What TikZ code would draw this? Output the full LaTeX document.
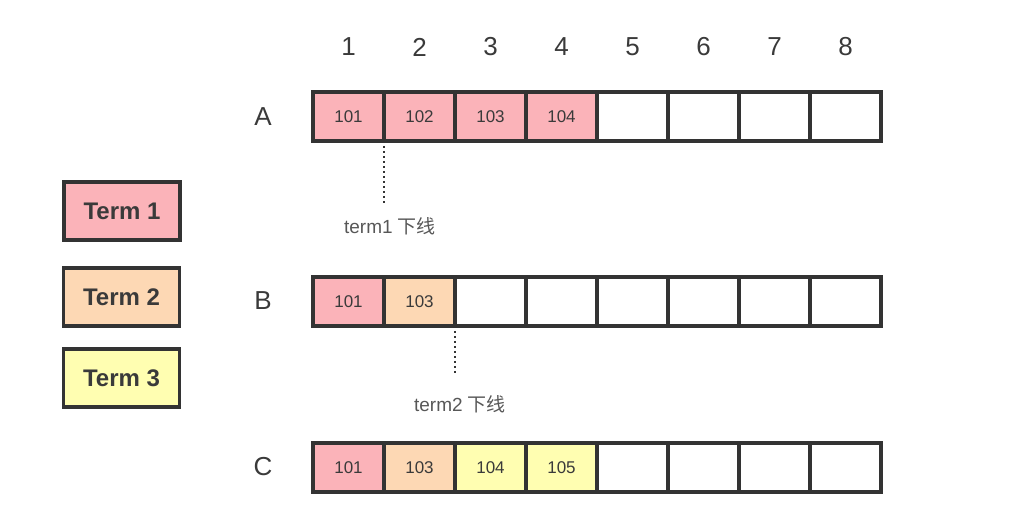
\documentclass[tikz,border=0pt]{standalone}
\usepackage{fontspec}
\setmainfont{Liberation Sans}
\newfontfamily\cjk{Noto Sans CJK SC}
\usepackage{xcolor}
\usepackage{tikz}
\usetikzlibrary{positioning}

\definecolor{tone1}{HTML}{FBB3B9}
\definecolor{tone2}{HTML}{FDD8B4}
\definecolor{tone3}{HTML}{FFFEB1}
\definecolor{edge}{HTML}{333333}
\definecolor{ink}{HTML}{3A3A3A}

\begin{document}
\begin{tikzpicture}[x=1pt, y=-1pt,
            cell/.style    ={rectangle, draw=edge, line width=3.2pt, outer sep=0pt, fill=white,
                             minimum width=71pt, minimum height=49pt, text=ink, font=\fontsize{17}{17}\selectfont},
            legend/.style  ={rectangle, draw=edge, line width=3.2pt, minimum width=116pt, minimum height=58pt,
                             text=ink, font=\fontsize{24}{24}\selectfont\bfseries},
            colnum/.style  ={text=ink, font=\fontsize{26}{26}\selectfont},
            rowname/.style ={text=ink, font=\fontsize{26}{26}\selectfont},
            offline/.style ={text=ink!85, font=\fontsize{19}{19}\selectfont},
            cut/.style     ={draw=edge, line width=2.6pt, dash pattern=on 2pt off 3pt}
        ]
            \useasboundingbox (0,0) rectangle (1034,526);

            % --- Fila A ---
            \node[cell, fill=tone1] (a1) at (348.5,116.5) {101};
            \node[cell, fill=tone1, right=0pt of a1] (a2) {102};
            \node[cell, fill=tone1, right=0pt of a2] (a3) {103};
            \node[cell, fill=tone1, right=0pt of a3] (a4) {104};
            \node[cell, right=0pt of a4] (a5) {};
            \node[cell, right=0pt of a5] (a6) {};
            \node[cell, right=0pt of a6] (a7) {};
            \node[cell, right=0pt of a7] (a8) {};

            % --- Fila B ---
            \node[cell, fill=tone1] (b1) at (348.5,301.5) {101};
            \node[cell, fill=tone2, right=0pt of b1] (b2) {103};
            \node[cell, right=0pt of b2] (b3) {};
            \node[cell, right=0pt of b3] (b4) {};
            \node[cell, right=0pt of b4] (b5) {};
            \node[cell, right=0pt of b5] (b6) {};
            \node[cell, right=0pt of b6] (b7) {};
            \node[cell, right=0pt of b7] (b8) {};

            % --- Fila C ---
            \node[cell, fill=tone1] (c1) at (348.5,467.5) {101};
            \node[cell, fill=tone2, right=0pt of c1] (c2) {103};
            \node[cell, fill=tone3, right=0pt of c2] (c3) {104};
            \node[cell, fill=tone3, right=0pt of c3] (c4) {105};
            \node[cell, right=0pt of c4] (c5) {};
            \node[cell, right=0pt of c5] (c6) {};
            \node[cell, right=0pt of c6] (c7) {};
            \node[cell, right=0pt of c7] (c8) {};

            % --- Cabecera y nombres de fila ---
            \node[colnum] (n1) at (a1 |- 0,47) {1};
            \node[colnum] (n2) at (a2 |- 0,47) {2};
            \node[colnum] (n3) at (a3 |- 0,47) {3};
            \node[colnum] (n4) at (a4 |- 0,47) {4};
            \node[colnum] (n5) at (a5 |- 0,47) {5};
            \node[colnum] (n6) at (a6 |- 0,47) {6};
            \node[colnum] (n7) at (a7 |- 0,47) {7};
            \node[colnum] (n8) at (a8 |- 0,47) {8};
            \node[rowname] (rowA) at (263,117) {A};
            \node[rowname] (rowB) at (263,301) {B};
            \node[rowname] (rowC) at (263,467) {C};

            % --- Leyenda ---
            \node[legend, fill=tone1] (term1) at (122,211) {Term 1};
            \node[legend, fill=tone2] (term2) at (121.5,297) {Term 2};
            \node[legend, fill=tone3] (term3) at (121.5,378) {Term 3};

            % --- Cortes ---
            \coordinate[below=62pt of a1.south east] (cutA);
            \coordinate[below=47pt of b2.south east] (cutB);
            \node[offline] (offA) at (390,226) {term1 {\cjk 下线}};
            \node[offline] (offB) at (460,404) {term2 {\cjk 下线}};
            \draw[cut] (a1.south east) -- (cutA);
            \draw[cut] (b2.south east) -- (cutB);
        \end{tikzpicture}
\end{document}
